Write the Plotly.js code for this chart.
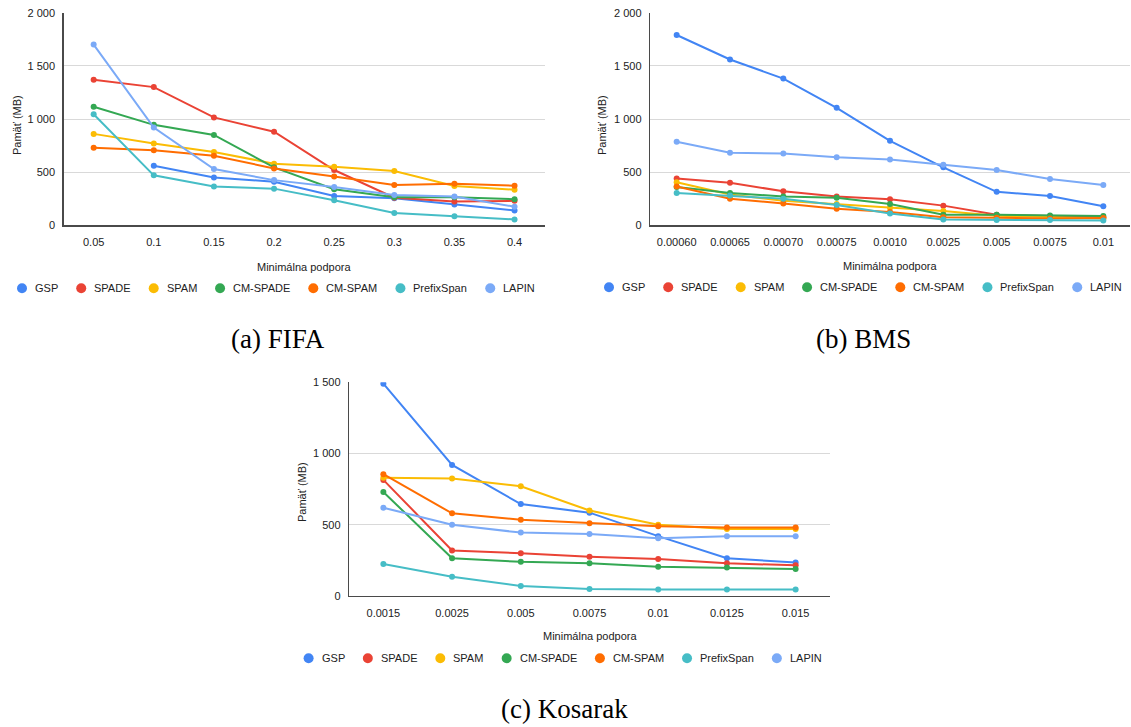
<!DOCTYPE html>
<html><head><meta charset="utf-8">
<script src="https://cdn.plot.ly/plotly-3.0.1.min.js"></script>
<style>html,body{margin:0;padding:0;background:#fff}#chart{width:1131px;height:727px}</style>
</head><body><div id="chart"></div>
<script>
const W = 1131, H = 727;
const algorithms = ['GSP','SPADE','SPAM','CM-SPADE','CM-SPAM','PrefixSpan','LAPIN'];
const colors = ['#4285F4','#EA4335','#FBBC04','#34A853','#FF6D01','#46BDC6','#7BAAF7'];

// (a) FIFA
const fifaSupport = ['0.05','0.1','0.15','0.2','0.25','0.3','0.35','0.4'];
const fifaGSP        = [null,560,450,410,275,255,195,140];
const fifaSPADE      = [1370,1300,1015,880,520,260,225,230];
const fifaSPAM       = [860,770,690,580,550,510,370,335];
const fifaCMSPADE    = [1115,945,850,545,340,263,265,245];
const fifaCMSPAM     = [730,705,655,535,460,380,390,372];
const fifaPrefixSpan = [1045,470,365,345,235,115,85,55];
const fifaLAPIN      = [1700,920,530,425,360,285,270,175];

// (b) BMS
const bmsSupport = ['0.00060','0.00065','0.00070','0.00075','0.0010','0.0025','0.005','0.0075','0.01'];
const bmsGSP        = [1790,1560,1380,1105,795,545,315,275,180];
const bmsSPADE      = [440,400,320,270,245,185,100,85,75];
const bmsSPAM       = [405,290,230,200,165,135,90,75,65];
const bmsCMSPADE    = [360,305,270,260,200,100,100,92,88];
const bmsCMSPAM     = [365,250,205,155,125,75,70,65,68];
const bmsPrefixSpan = [305,280,250,190,110,55,50,50,45];
const bmsLAPIN      = [785,683,675,640,620,570,520,435,380];

// (c) Kosarak
const kosSupport = ['0.0015','0.0025','0.005','0.0075','0.01','0.0125','0.015'];
const kosGSP        = [1490,920,645,585,420,265,235];
const kosSPADE      = [815,320,300,275,260,230,215];
const kosSPAM       = [830,825,770,600,500,470,470];
const kosCMSPADE    = [730,265,240,230,205,200,190];
const kosCMSPAM     = [855,580,535,510,490,480,480];
const kosPrefixSpan = [225,135,70,50,45,45,45];
const kosLAPIN      = [620,500,445,435,405,420,420];

const yTickVals2000 = [0,500,1000,1500,2000];
const yTickText2000 = ['0','500','1 000','1 500','2 000'];
const yTickVals1500 = [0,500,1000,1500];
const yTickText1500 = ['0','500','1 000','1 500'];

const xTitle = 'Minimálna podpora';
const yTitle = 'Pamäť (MB)';
const captions = ['(a) FIFA','(b) BMS','(c) Kosarak'];

const FONT = '"Liberation Sans", Arial, sans-serif';
const px = v => v / W;
const py = v => 1 - v / H;

const datasets = [
  {support: fifaSupport, series: [fifaGSP,fifaSPADE,fifaSPAM,fifaCMSPADE,fifaCMSPAM,fifaPrefixSpan,fifaLAPIN], xa:'x', ya:'y'},
  {support: bmsSupport, series: [bmsGSP,bmsSPADE,bmsSPAM,bmsCMSPADE,bmsCMSPAM,bmsPrefixSpan,bmsLAPIN], xa:'x2', ya:'y2'},
  {support: kosSupport, series: [kosGSP,kosSPADE,kosSPAM,kosCMSPADE,kosCMSPAM,kosPrefixSpan,kosLAPIN], xa:'x3', ya:'y3'}
];

const traces = [];
datasets.forEach(d => {
  d.series.forEach((vals, i) => {
    traces.push({
      type:'scatter', mode:'lines+markers', name: algorithms[i],
      x: d.support, y: vals, xaxis: d.xa, yaxis: d.ya,
      line:{color: colors[i], width: 2},
      marker:{color: colors[i], size: 6},
      showlegend:false, hoverinfo:'skip'
    });
  });
});

// plot boxes in pixels: [left, right, top, bottom]
const boxes = [
  [63.6, 544.6, 12.7, 225.3],
  [650, 1130, 12.7, 225.3],
  [349, 830, 382.3, 596]
];

function xAxis(box, n, anchor){
  return {
    domain:[px(box[0]), px(box[1])], anchor: anchor, type:'category',
    range:[-0.5, n - 0.5], showgrid:false, zeroline:false,
    showline:true, linecolor:'#4a4a4a', linewidth:1.3,
    ticks:'', ticklabelstandoff: 6,
    tickfont:{family:FONT, size:11, color:'#222'}, fixedrange:true
  };
}
function yAxis(box, max, vals, text, anchor){
  return {
    domain:[py(box[3]), py(box[2])], anchor: anchor,
    range:[0, max], tickmode:'array', tickvals: vals, ticktext: text,
    showgrid:true, gridcolor:'#d9d9d9', gridwidth:1, zeroline:false,
    showline:true, linecolor:'#4a4a4a', linewidth:1.3,
    ticks:'', ticklabelstandoff: 5,
    tickfont:{family:FONT, size:11, color:'#222'}, fixedrange:true
  };
}

const annotations = [];
const shapes = [];
const ctx = document.createElement('canvas').getContext('2d');
ctx.font = '11px "Liberation Sans", Arial, sans-serif';

function addLegend(startCx, cy){
  let cx = startCx;
  algorithms.forEach((name, i) => {
    shapes.push({type:'circle', xref:'paper', yref:'paper', xsizemode:'pixel', ysizemode:'pixel',
      xanchor: px(cx), yanchor: py(cy), x0:-5, x1:5, y0:-5, y1:5,
      fillcolor: colors[i], line:{width:0}});
    annotations.push({xref:'paper', yref:'paper', x: px(cx + 12), y: py(cy), xanchor:'left', yanchor:'middle',
      text: name, showarrow:false, borderpad:0, font:{family:FONT, size:11, color:'#222'}});
    cx += 12 + ctx.measureText(name).width + 24;
  });
}

function addText(x, y, text, size, family, angle, color){
  annotations.push({xref:'paper', yref:'paper', x: px(x), y: py(y), xanchor:'center', yanchor:'middle',
    text: text, showarrow:false, borderpad:0, textangle: angle || 0,
    font:{family: family, size: size, color: color || '#222'}});
}

// axis titles
addText((boxes[0][0]+boxes[0][1])/2, 267, xTitle, 11, FONT);
addText((boxes[1][0]+boxes[1][1])/2, 266, xTitle, 11, FONT);
addText((boxes[2][0]+boxes[2][1])/2, 636, xTitle, 11, FONT);
addText(17, 125, yTitle, 11, FONT, -90);
addText(602, 125, yTitle, 11, FONT, -90);
addText(302, 492, yTitle, 11, FONT, -90);

// legends
addLegend(22, 288.3);
addLegend(609, 287.3);
addLegend(308.6, 658.3);

// captions
const SERIF = '"Liberation Serif", "DejaVu Serif", serif';
addText(277.5, 339, captions[0], 27, SERIF, 0, '#000');
addText(863, 339, captions[1], 27, SERIF, 0, '#000');
addText(564.5, 709, captions[2], 27, SERIF, 0, '#000');

const layout = {
  width: W, height: H, margin:{l:0, r:0, t:0, b:0},
  paper_bgcolor:'#fff', plot_bgcolor:'#fff', showlegend:false,
  font:{family:FONT, size:11, color:'#222'},
  xaxis: xAxis(boxes[0], fifaSupport.length, 'y'),
  yaxis: yAxis(boxes[0], 2000, yTickVals2000, yTickText2000, 'x'),
  xaxis2: xAxis(boxes[1], bmsSupport.length, 'y2'),
  yaxis2: yAxis(boxes[1], 2000, yTickVals2000, yTickText2000, 'x2'),
  xaxis3: xAxis(boxes[2], kosSupport.length, 'y3'),
  yaxis3: yAxis(boxes[2], 1500, yTickVals1500, yTickText1500, 'x3'),
  annotations: annotations, shapes: shapes
};

Plotly.newPlot('chart', traces, layout, {staticPlot:true, displayModeBar:false});
</script>
</body></html>
